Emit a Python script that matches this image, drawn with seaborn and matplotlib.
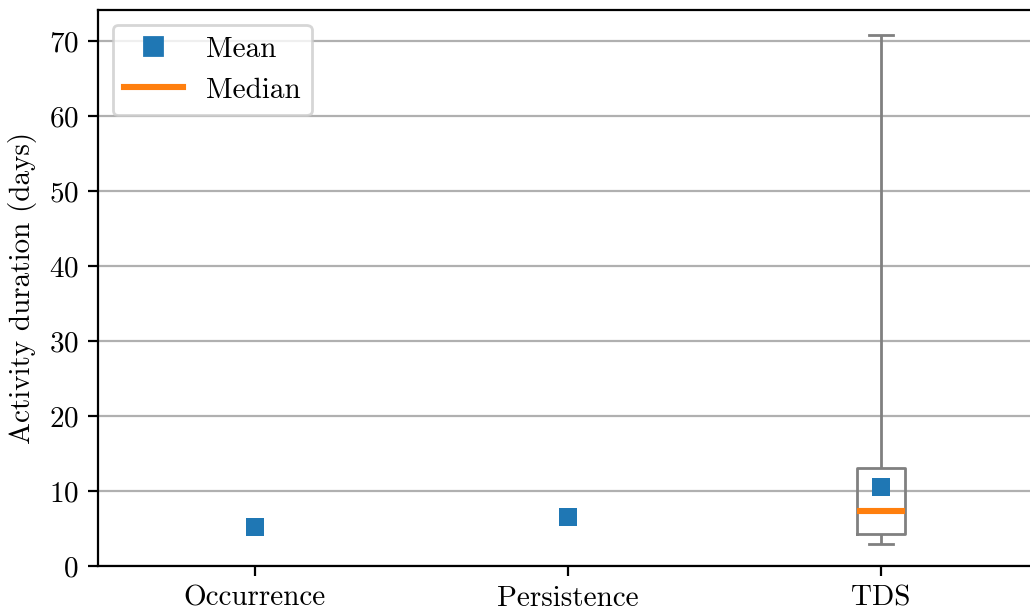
import numpy as np
import pandas as pd
import matplotlib
matplotlib.use("Agg")
import matplotlib.pyplot as plt
import seaborn as sns
from matplotlib.lines import Line2D

# ---- data ----
categories = ["Occurrence", "Persistence", "TDS"]
means = [5.16, 6.50, 10.59]
# TDS distribution summary points (min, Q1, median, Q3, max)
tds_values = [2.98, 4.23, 7.30, 13.04, 70.9]
ylabel = "Activity duration (days)"

plt.rcParams["font.family"] = ["cmr10", "DejaVu Serif"]
plt.rcParams["mathtext.fontset"] = "cm"
plt.rcParams["axes.formatter.use_mathtext"] = True
plt.rcParams["font.size"] = 10.5

fig = plt.figure(figsize=(5.15, 3.065), dpi=200)
ax = fig.add_axes([98 / 1030, 47 / 613, (1037.5 - 98) / 1030, (566 - 10) / 613])

box_df = pd.DataFrame({"cat": ["TDS"] * len(tds_values), "val": tds_values})
sns.boxplot(data=box_df, x="cat", y="val", order=categories, ax=ax,
            width=0.152, whis=(0, 100), fill=False, color="gray",
            linewidth=1.0,
            medianprops=dict(color="#ff7f0e", linewidth=2.2),
            showfliers=False)

mean_df = pd.DataFrame({"cat": categories, "val": means})
sns.stripplot(data=mean_df, x="cat", y="val", order=categories, ax=ax,
              jitter=False, marker="s", size=6.5, color="#1f77b4",
              linewidth=0, zorder=5)

ax.set_xlim(-0.5, 2.5)
ax.set_ylim(0, 74.2)
ax.set_yticks(np.arange(0, 71, 10))
ax.grid(axis="y", color="#b0b0b0", linewidth=0.8)
ax.set_axisbelow(True)
ax.set_xlabel("")
ax.set_ylabel(ylabel)

handles = [
    Line2D([], [], marker="s", color="#1f77b4", linestyle="none", markersize=6.5),
    Line2D([], [], color="#ff7f0e", linewidth=2.2),
]
ax.legend(handles, ["Mean", "Median"], loc="upper left")

fig.savefig("out.png", dpi=200)
